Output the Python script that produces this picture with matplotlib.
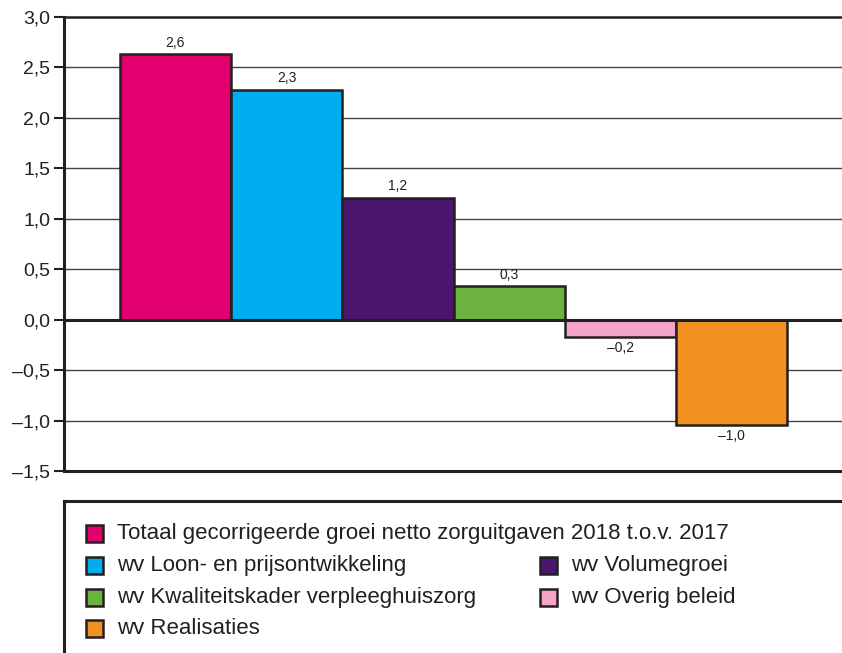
import matplotlib.pyplot as plt
from matplotlib.patches import Rectangle

# data
categories = ["Totaal gecorrigeerde groei netto zorguitgaven 2018 t.o.v. 2017",
              "wv Loon- en prijsontwikkeling",
              "wv Volumegroei",
              "wv Kwaliteitskader verpleeghuiszorg",
              "wv Overig beleid",
              "wv Realisaties"]
values = [2.63, 2.28, 1.21, 0.33, -0.17, -1.04]
colors = ["#E2006F", "#00AEEF", "#4B176E", "#6BB33E", "#F5A3C8", "#F29120"]
yticks = [-1.5, -1.0, -0.5, 0.0, 0.5, 1.0, 1.5, 2.0, 2.5, 3.0]


def fmt(v):
    s = f"{abs(v):.1f}".replace(".", ",")
    return ("\u2013" + s) if round(v, 1) < 0 else s


plt.rcParams['font.family'] = ['Liberation Sans', 'DejaVu Sans']

fig = plt.figure(figsize=(8.42, 6.53), dpi=100)
ax = fig.add_axes([64 / 842, 1 - 471 / 653, 1 - 64 / 842, (471 - 17) / 653])

x = list(range(len(values)))
ax.bar(x, values, width=1.0, color=colors, edgecolor="#231f20", linewidth=1.8, zorder=3)

for i, v in enumerate(values):
    if v >= 0:
        ax.annotate(fmt(v), (i, v), xytext=(0, 3), textcoords="offset points",
                    ha="center", va="bottom", fontsize=10, color="#231f20")
    else:
        ax.annotate(fmt(v), (i, v), xytext=(0, -3), textcoords="offset points",
                    ha="center", va="top", fontsize=10, color="#231f20")

ax.set_xlim(-1.0, 5.99)
ax.set_ylim(-1.5, 3.0)
ax.set_yticks(yticks)
ax.set_yticklabels([fmt(t) for t in yticks], fontsize=14, color="#231f20")
ax.set_xticks([])
ax.tick_params(axis="y", direction="out", length=7, width=1.5, color="#231f20", pad=3)

for t in yticks:
    if t == 0.0:
        ax.axhline(t, color="#231f20", linewidth=2.2, zorder=4)
    elif t not in (-1.5, 3.0):
        ax.axhline(t, color="#444444", linewidth=1.0, zorder=1)

ax.spines["right"].set_visible(False)
for s in ("left", "bottom", "top"):
    ax.spines[s].set_color("#231f20")
ax.spines["left"].set_linewidth(2.2)
ax.spines["bottom"].set_linewidth(2.2)
ax.spines["top"].set_linewidth(1.8)

# legend box
lax = fig.add_axes([64 / 842, 0, 1 - 64 / 842, 1 - 501 / 653])
lax.set_xlim(64, 842)
lax.set_ylim(653, 501)
lax.set_xticks([])
lax.set_yticks([])
lax.spines["right"].set_visible(False)
lax.spines["bottom"].set_visible(False)
lax.spines["left"].set_linewidth(2.2)
lax.spines["top"].set_linewidth(2.2)
lax.spines["left"].set_color("#231f20")
lax.spines["top"].set_color("#231f20")

# (column x, row y) in pixels for each legend entry
slots = [(86, 533), (86, 565), (540, 565), (86, 597), (540, 597), (86, 628)]
for (px, py), lab, c in zip(slots, categories, colors):
    lax.add_patch(Rectangle((px, py - 8.5), 17, 17, facecolor=c,
                            edgecolor="#231f20", linewidth=1.8))
    lax.text(px + 31, py, lab, va="center", ha="left", fontsize=16, color="#231f20")

fig.savefig("out.png", dpi=100)
